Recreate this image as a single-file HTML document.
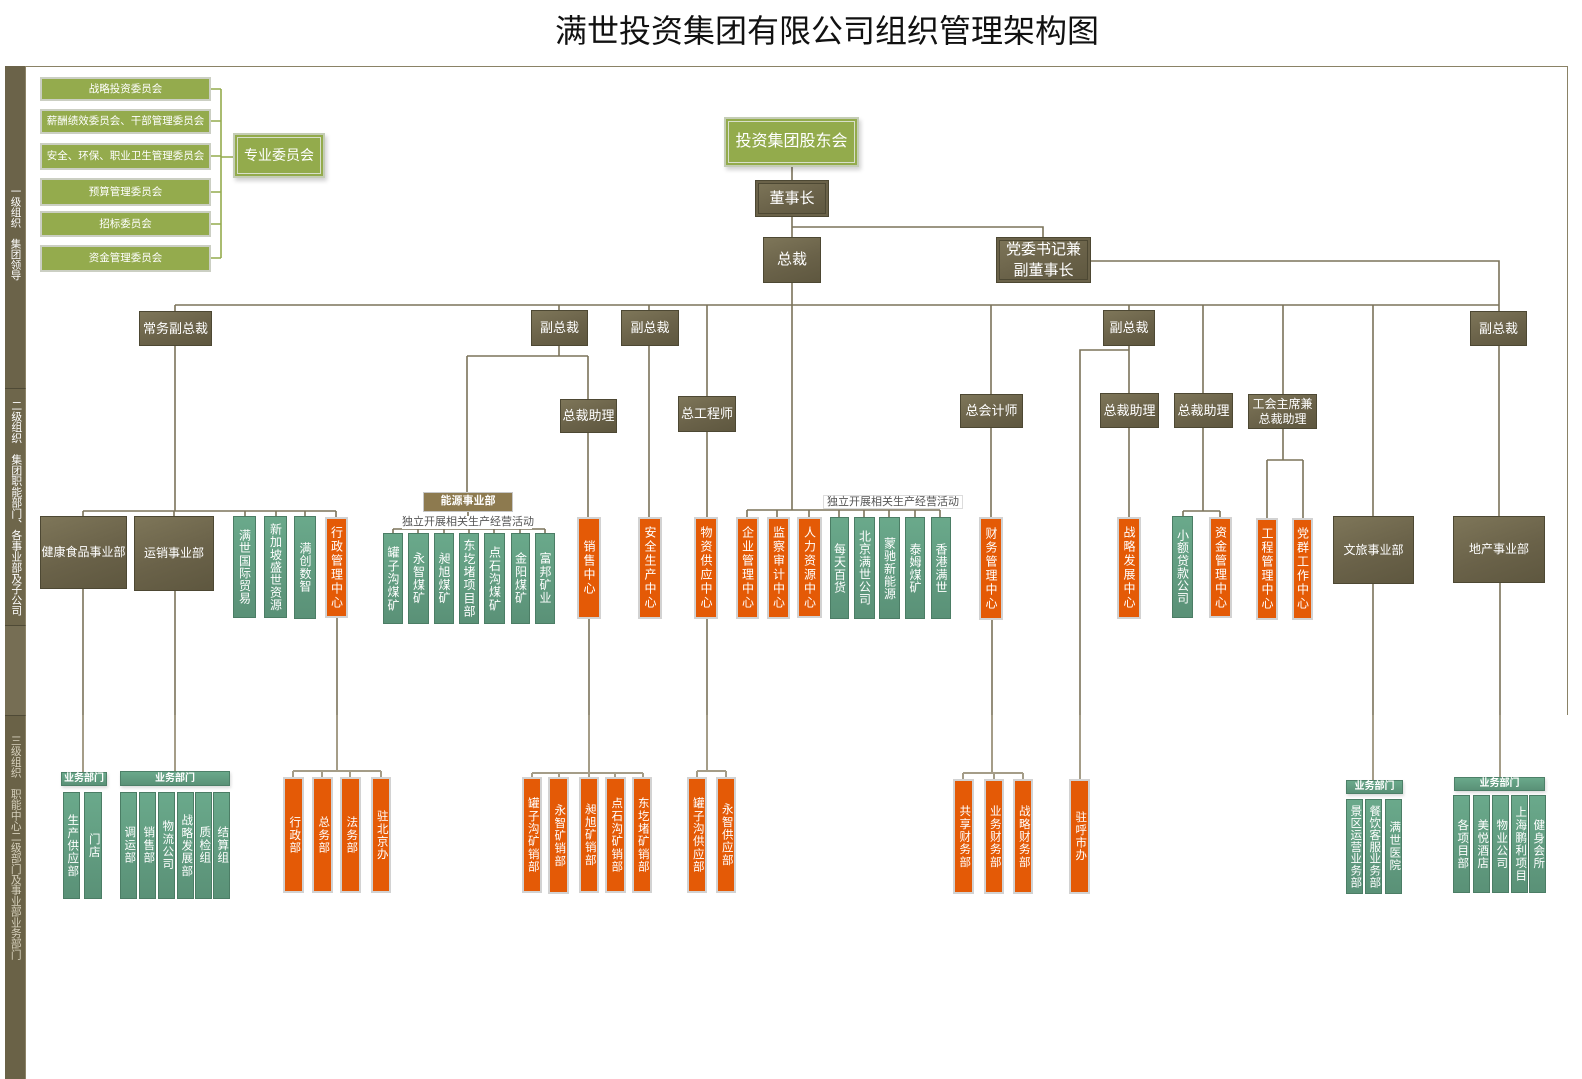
<!DOCTYPE html>
<html><head><meta charset="utf-8">
<style>
html,body{margin:0;padding:0;background:#fff;}
body{width:1582px;height:1079px;position:relative;overflow:hidden;font-family:"Liberation Sans","Noto Sans CJK SC",sans-serif;}
.b{position:absolute;box-sizing:border-box;display:flex;align-items:center;justify-content:center;color:#fff;text-align:center;line-height:1.2;z-index:2;}
.ex{background:linear-gradient(160deg,#7e7659 0%,#6a6249 55%,#5e573f 100%);border:1px solid #4d4833;font-size:13px;}
.dbl{box-shadow:inset 0 0 0 2px #6a6249,inset 0 0 0 3px #4d4833;}
.cm{background:#94ab4d;border:2px solid #cbcfc3;font-size:10.5px;}
.gr{background:#93ab4c;border:2px solid #c4cdb5;box-shadow:inset 0 0 0 2px #93ab4c,inset 0 0 0 3px #d8dfca,2px 3px 4px rgba(0,0,0,.18);}
.or{background:#e45a06;border:2px solid #d2d2d2;}
.tl{background:linear-gradient(180deg,#6aa98b,#5a9177);border:1px solid #4b7d65;}
.v{writing-mode:vertical-rl;font-size:12px;letter-spacing:2px;line-height:1;}
.vg{writing-mode:vertical-rl;font-size:12px;letter-spacing:.6px;line-height:1;}
.vm{writing-mode:vertical-rl;font-size:12px;letter-spacing:1.2px;line-height:1;}
.vb{writing-mode:vertical-rl;font-size:11.5px;letter-spacing:1.2px;line-height:1;}
.lab{position:absolute;box-sizing:border-box;background:#fff;color:#555;font-size:11px;text-align:center;line-height:12px;z-index:2;white-space:nowrap;}
.yw{background:linear-gradient(180deg,#6aa98b,#5a9177);border:1px solid #4d8068;font-size:10px;font-weight:bold;box-shadow:1px 2px 3px rgba(0,0,0,.15);}
.side{position:absolute;left:5px;width:21px;box-sizing:border-box;}
.st{position:absolute;left:10px;writing-mode:vertical-rl;color:#fff;line-height:1;z-index:3;white-space:nowrap;}
</style></head><body>

<div style="position:absolute;left:0;top:12px;width:1654px;text-align:center;font-size:32px;color:#111;line-height:38px;font-family:'Liberation Sans','Noto Sans CJK SC',sans-serif;">满世投资集团有限公司组织管理架构图</div>

<!-- frame -->
<div style="position:absolute;left:5px;top:66px;width:1562px;height:1px;background:#8a8266;"></div>
<div style="position:absolute;left:1567px;top:66px;width:1px;height:649px;background:#8a8266;"></div>

<!-- sidebar -->
<div class="side" style="top:66px;height:322px;background:#6b6349;border-right:1px solid #8d8468;"></div>
<div class="side" style="top:388px;height:237px;background:#6e664b;border-top:1px solid #4f4a36;border-right:1px solid #8d8468;"></div>
<div class="side" style="top:625px;height:90px;background:#766e54;border-top:1px solid #4f4a36;border-right:1px solid #8d8468;"></div>
<div class="side" style="top:715px;height:364px;background:#6a6247;border-top:1px solid #4f4a36;border-right:1px solid #8d8468;"></div>
<div class="st" style="top:186px;font-size:10.5px;">一级组织　集团领导</div>
<div class="st" style="top:400px;font-size:10.8px;">二级组织　集团职能部门、各事业部及子公司</div>
<div class="st" style="top:735px;font-size:10.7px;color:#d6d0bc;">三级组织　职能中心二级部门及事业部业务部门</div>

<svg width="1582" height="1079" style="position:absolute;left:0;top:0;z-index:1" fill="none">
<g stroke="#94ab4d" stroke-width="1.6">
<path d="M211 89H221M211 121H221M211 156H221M211 192H221M211 224H221M211 258H221M221 89V258M221 157H233"/>
</g>
<g stroke="#7b735a" stroke-width="1.6">
<path d="M792 167V237M792 227H1043V237M1091 261H1499V311M792 283V510M175 305H1499"/>
<path d="M175 305V311M175 346V511M83 511H336M83 511V516M174 511V516M245 511V516M276 511V516M305 511V516M336 511V517"/>
<path d="M559 305V310M559 346V356M467 356H588M467 356V492M588 356V399M588 433V517"/>
<path d="M468 512V517M393 529H545M393 529V533M418 529V533M444 529V533M469 529V533M494 529V533M520 529V533M545 529V533"/>
<path d="M649 305V517M707 305V396M707 432V517"/>
<path d="M747 510H940M747 510V517M777 510V517M809 510V517M839 510V517M864 510V517M889 510V517M915 510V517M940 510V517"/>
<path d="M991 305V394M991 428V517M1129 305V517M1129 350H1080V715"/>
<path d="M1203 305V393M1203 428V511M1183 511H1220M1183 511V516M1220 511V517"/>
<path d="M1283 305V394M1283 429V460M1267 460H1303M1267 460V518M1303 460V518"/>
<path d="M1373 305V516M1499 346V516"/>
<path d="M83 589V715M175 591V715M337 618V715M589 619V715M707 619V715M992 620V715M1373 584V715M1500 583V715"/>
</g>
<g stroke="#a59d88" stroke-width="2">
<path d="M83 715V772M175 715V771"/>
<path d="M337 715V771M293 771H381M293 771V777M322 771V777M350 771V777M381 771V777"/>
<path d="M589 715V773M532 773H643M532 773V777M559 773V777M589 773V777M615 773V777M643 773V777"/>
<path d="M707 715V771M697 771H726M697 771V777M726 771V777"/>
<path d="M992 715V773M963 773H1023M963 773V779M994 773V779M1023 773V779"/>
<path d="M1080 715V779M1373 715V780M1500 715V777"/>
</g>
</svg>

<!-- committees -->
<div class="b cm" style="left:40px;top:77px;width:171px;height:24px;">战略投资委员会</div>
<div class="b cm" style="left:40px;top:109px;width:171px;height:25px;">薪酬绩效委员会、干部管理委员会</div>
<div class="b cm" style="left:40px;top:143px;width:171px;height:27px;">安全、环保、职业卫生管理委员会</div>
<div class="b cm" style="left:40px;top:178px;width:171px;height:28px;">预算管理委员会</div>
<div class="b cm" style="left:40px;top:211px;width:171px;height:26px;">招标委员会</div>
<div class="b cm" style="left:40px;top:245px;width:171px;height:27px;">资金管理委员会</div>
<div class="b gr" style="left:233px;top:133px;width:92px;height:45px;font-size:14px;">专业委员会</div>

<!-- top -->
<div class="b gr" style="left:724px;top:117px;width:135px;height:50px;font-size:16px;">投资集团股东会</div>
<div class="b ex dbl" style="left:755px;top:180px;width:74px;height:37px;font-size:15px;">董事长</div>
<div class="b ex" style="left:763px;top:237px;width:58px;height:46px;font-size:15px;">总裁</div>
<div class="b ex dbl" style="left:996px;top:237px;width:95px;height:46px;font-size:15px;line-height:21px;">党委书记兼<br>副董事长</div>

<!-- VP row -->
<div class="b ex" style="left:139px;top:311px;width:73px;height:35px;">常务副总裁</div>
<div class="b ex" style="left:531px;top:310px;width:57px;height:36px;">副总裁</div>
<div class="b ex" style="left:621px;top:310px;width:58px;height:36px;">副总裁</div>
<div class="b ex" style="left:1103px;top:310px;width:52px;height:36px;">副总裁</div>
<div class="b ex" style="left:1470px;top:311px;width:57px;height:35px;">副总裁</div>

<div class="b ex" style="left:560px;top:399px;width:57px;height:34px;">总裁助理</div>
<div class="b ex" style="left:678px;top:396px;width:58px;height:36px;">总工程师</div>
<div class="b ex" style="left:960px;top:394px;width:63px;height:34px;">总会计师</div>
<div class="b ex" style="left:1100px;top:393px;width:59px;height:35px;">总裁助理</div>
<div class="b ex" style="left:1174px;top:393px;width:59px;height:35px;">总裁助理</div>
<div class="b ex" style="left:1248px;top:394px;width:69px;height:35px;font-size:12px;line-height:15px;">工会主席兼<br>总裁助理</div>

<!-- divisions -->
<div class="b ex" style="left:40px;top:516px;width:87px;height:73px;font-size:12px;">健康食品事业部</div>
<div class="b ex" style="left:134px;top:516px;width:80px;height:75px;font-size:12px;">运销事业部</div>
<div class="b ex" style="left:1333px;top:516px;width:81px;height:68px;font-size:12px;">文旅事业部</div>
<div class="b ex" style="left:1453px;top:516px;width:92px;height:67px;font-size:12px;">地产事业部</div>

<div class="b tl" style="left:233px;top:516px;width:23px;height:102px;"><span class="vg">满世国际贸易</span></div>
<div class="b tl" style="left:264px;top:516px;width:23px;height:102px;"><span class="vg">新加坡盛世资源</span></div>
<div class="b tl" style="left:294px;top:516px;width:22px;height:103px;"><span class="vg">满创数智</span></div>
<div class="b or" style="left:325px;top:517px;width:23px;height:101px;"><span class="v">行政管理中心</span></div>

<div class="b" style="left:423px;top:492px;width:90px;height:20px;background:#8d7a4f;border:1px solid #c7c7c7;font-size:11px;font-weight:bold;">能源事业部</div>
<div class="lab" style="left:402px;top:516px;width:130px;height:13px;">独立开展相关生产经营活动</div>
<div class="b tl" style="left:383px;top:533px;width:20px;height:91px;"><span class="vm">罐子沟煤矿</span></div>
<div class="b tl" style="left:408px;top:533px;width:21px;height:91px;"><span class="vm">永智煤矿</span></div>
<div class="b tl" style="left:434px;top:533px;width:20px;height:91px;"><span class="vm">昶旭煤矿</span></div>
<div class="b tl" style="left:459px;top:533px;width:20px;height:91px;"><span class="vm">东圪堵项目部</span></div>
<div class="b tl" style="left:484px;top:533px;width:21px;height:91px;"><span class="vm">点石沟煤矿</span></div>
<div class="b tl" style="left:511px;top:533px;width:19px;height:91px;"><span class="vm">金阳煤矿</span></div>
<div class="b tl" style="left:535px;top:533px;width:20px;height:91px;"><span class="vm">富邦矿业</span></div>

<div class="b or" style="left:577px;top:517px;width:24px;height:102px;"><span class="v">销售中心</span></div>
<div class="b or" style="left:638px;top:517px;width:24px;height:102px;"><span class="v">安全生产中心</span></div>
<div class="b or" style="left:694px;top:517px;width:24px;height:102px;"><span class="v">物资供应中心</span></div>
<div class="b or" style="left:736px;top:517px;width:23px;height:102px;"><span class="v">企业管理中心</span></div>
<div class="b or" style="left:767px;top:517px;width:23px;height:102px;"><span class="v">监察审计中心</span></div>
<div class="b or" style="left:797px;top:517px;width:25px;height:101px;"><span class="v">人力资源中心</span></div>
<div class="lab" style="left:823px;top:495px;width:140px;height:14px;border:1px solid #dcdcdc;">独立开展相关生产经营活动</div>
<div class="b tl" style="left:830px;top:517px;width:19px;height:102px;"><span class="vg">每天百货</span></div>
<div class="b tl" style="left:854px;top:517px;width:21px;height:102px;"><span class="vg">北京满世公司</span></div>
<div class="b tl" style="left:879px;top:517px;width:21px;height:102px;"><span class="vg">蒙驰新能源</span></div>
<div class="b tl" style="left:905px;top:517px;width:20px;height:102px;"><span class="vg">泰姆煤矿</span></div>
<div class="b tl" style="left:931px;top:517px;width:20px;height:102px;"><span class="vg">香港满世</span></div>

<div class="b or" style="left:979px;top:517px;width:24px;height:103px;"><span class="v">财务管理中心</span></div>
<div class="b or" style="left:1117px;top:517px;width:24px;height:102px;"><span class="v">战略发展中心</span></div>
<div class="b tl" style="left:1172px;top:516px;width:21px;height:102px;"><span class="vg">小额贷款公司</span></div>
<div class="b or" style="left:1209px;top:517px;width:23px;height:101px;"><span class="v">资金管理中心</span></div>
<div class="b or" style="left:1256px;top:518px;width:22px;height:102px;"><span class="v">工程管理中心</span></div>
<div class="b or" style="left:1292px;top:518px;width:21px;height:102px;"><span class="v">党群工作中心</span></div>

<!-- level 3 -->
<div class="b yw" style="left:61px;top:772px;width:46px;height:14px;">业务部门</div>
<div class="b tl" style="left:63px;top:792px;width:17px;height:107px;"><span class="vb">生产供应部</span></div>
<div class="b tl" style="left:84px;top:792px;width:18px;height:107px;"><span class="vb">门店</span></div>

<div class="b yw" style="left:120px;top:771px;width:110px;height:15px;">业务部门</div>
<div class="b tl" style="left:120px;top:792px;width:17px;height:107px;"><span class="vb">调运部</span></div>
<div class="b tl" style="left:139px;top:792px;width:17px;height:107px;"><span class="vb">销售部</span></div>
<div class="b tl" style="left:158px;top:792px;width:17px;height:107px;"><span class="vb">物流公司</span></div>
<div class="b tl" style="left:177px;top:792px;width:17px;height:107px;"><span class="vb">战略发展部</span></div>
<div class="b tl" style="left:195px;top:792px;width:17px;height:107px;"><span class="vb">质检组</span></div>
<div class="b tl" style="left:213px;top:792px;width:17px;height:107px;"><span class="vb">结算组</span></div>

<div class="b or" style="left:283px;top:777px;width:21px;height:116px;"><span class="vb">行政部</span></div>
<div class="b or" style="left:312px;top:777px;width:21px;height:116px;"><span class="vb">总务部</span></div>
<div class="b or" style="left:340px;top:777px;width:21px;height:116px;"><span class="vb">法务部</span></div>
<div class="b or" style="left:371px;top:777px;width:20px;height:116px;"><span class="vb">驻北京办</span></div>

<div class="b or" style="left:522px;top:777px;width:20px;height:116px;"><span class="vb">罐子沟矿销部</span></div>
<div class="b or" style="left:548px;top:777px;width:21px;height:117px;"><span class="vb">永智矿销部</span></div>
<div class="b or" style="left:579px;top:777px;width:20px;height:116px;"><span class="vb">昶旭矿销部</span></div>
<div class="b or" style="left:605px;top:777px;width:21px;height:116px;"><span class="vb">点石沟矿销部</span></div>
<div class="b or" style="left:632px;top:777px;width:20px;height:116px;"><span class="vb">东圪堵矿销部</span></div>

<div class="b or" style="left:687px;top:777px;width:20px;height:116px;"><span class="vb">罐子沟供应部</span></div>
<div class="b or" style="left:716px;top:777px;width:20px;height:116px;"><span class="vb">永智供应部</span></div>

<div class="b or" style="left:953px;top:779px;width:21px;height:115px;"><span class="vb">共享财务部</span></div>
<div class="b or" style="left:984px;top:779px;width:20px;height:115px;"><span class="vb">业务财务部</span></div>
<div class="b or" style="left:1013px;top:779px;width:20px;height:115px;"><span class="vb">战略财务部</span></div>
<div class="b or" style="left:1069px;top:779px;width:21px;height:115px;"><span class="vb">驻呼市办</span></div>

<div class="b yw" style="left:1346px;top:780px;width:57px;height:14px;">业务部门</div>
<div class="b tl" style="left:1346px;top:799px;width:17px;height:95px;"><span class="vb" style="letter-spacing:.4px">景区运营业务部</span></div>
<div class="b tl" style="left:1365px;top:799px;width:17px;height:95px;"><span class="vb" style="letter-spacing:.4px">餐饮客服业务部</span></div>
<div class="b tl" style="left:1385px;top:799px;width:17px;height:95px;"><span class="vb">满世医院</span></div>

<div class="b yw" style="left:1454px;top:777px;width:91px;height:14px;">业务部门</div>
<div class="b tl" style="left:1453px;top:795px;width:17px;height:98px;"><span class="vb">各项目部</span></div>
<div class="b tl" style="left:1473px;top:795px;width:17px;height:98px;"><span class="vb">美悦酒店</span></div>
<div class="b tl" style="left:1492px;top:795px;width:17px;height:98px;"><span class="vb">物业公司</span></div>
<div class="b tl" style="left:1511px;top:795px;width:17px;height:98px;"><span class="vb">上海鹏利项目</span></div>
<div class="b tl" style="left:1529px;top:795px;width:17px;height:98px;"><span class="vb">健身会所</span></div>

</body></html>
